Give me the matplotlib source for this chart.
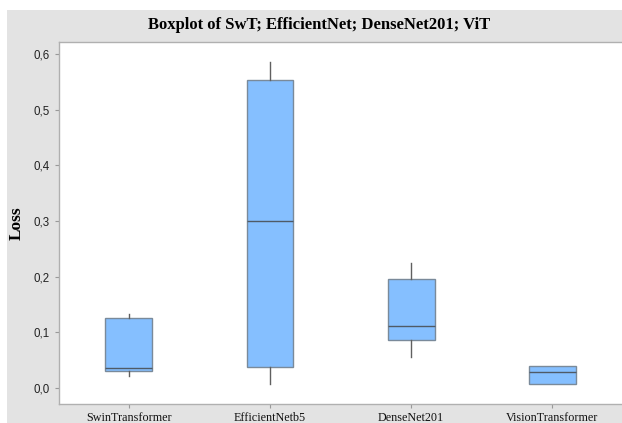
import matplotlib
matplotlib.use("Agg")
import matplotlib.pyplot as plt
from matplotlib.patches import Rectangle
from matplotlib.ticker import FuncFormatter

# box statistics
models = ["SwinTransformer", "EfficientNetb5", "DenseNet201", "VisionTransformer"]
whislo = [0.022, 0.007, 0.056, 0.007]
q1 = [0.031, 0.038, 0.086, 0.007]
med = [0.036, 0.300, 0.111, 0.029]
q3 = [0.126, 0.553, 0.196, 0.040]
whishi = [0.133, 0.586, 0.225, 0.040]
y_ticks = [0.0, 0.1, 0.2, 0.3, 0.4, 0.5, 0.6]

W, H = 622, 423
fig = plt.figure(figsize=(W / 100, H / 100), dpi=100)
fig.patch.set_facecolor("white")
# grey Minitab-style panel
fig.add_artist(Rectangle((7 / W, 0), 1, (H - 10) / H, transform=fig.transFigure,
                         facecolor="#e3e3e3", edgecolor="none", zorder=-10))

ax = fig.add_axes([59 / W, (H - 404) / H, (W - 59 + 2) / W, (404 - 42) / H])
ax.set_facecolor("white")

stats = []
for i, name in enumerate(models):
    stats.append(dict(label=name, whislo=whislo[i], q1=q1[i], med=med[i],
                      q3=q3[i], whishi=whishi[i], fliers=[]))

ax.bxp(stats, positions=[1, 2, 3, 4], widths=0.333, patch_artist=True,
       showcaps=False,
       boxprops=dict(facecolor="#85bfff", edgecolor="#7a8a9a", linewidth=1.0),
       medianprops=dict(color="#4f5a66", linewidth=1.0),
       whiskerprops=dict(color="#606060", linewidth=1.0))

ax.set_xlim(0.504, 4.51)
ax.set_ylim(-0.029, 0.622)
ax.set_yticks(y_ticks)
ax.yaxis.set_major_formatter(FuncFormatter(lambda v, p: f"{v:.1f}".replace(".", ",")))

for lab in ax.get_yticklabels():
    lab.set_family("Liberation Sans")
    lab.set_fontsize(8.3)
    lab.set_color("#222222")
ax.set_xticks([1, 2, 3, 4])
ax.set_xticklabels(models, family="Liberation Serif", fontsize=8.7, color="#111111")
ax.tick_params(axis="both", length=3, color="#999999")
ax.tick_params(axis="y", pad=4)
ax.tick_params(axis="x", pad=3)

for s in ax.spines.values():
    s.set_color("#b0b0b0")
    s.set_linewidth(1.0)

ax.set_ylabel("Loss", family="Liberation Serif", fontweight="bold", fontsize=12.5, labelpad=6)
fig.text(319 / W, 1 - 25 / H, "Boxplot of SwT; EfficientNet; DenseNet201; ViT",
         ha="center", va="center", family="Liberation Serif", fontweight="bold", fontsize=12)

fig.savefig("out.png", dpi=100)
